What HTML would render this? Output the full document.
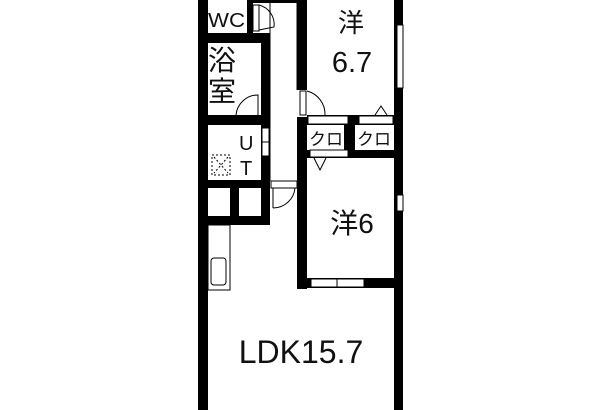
<!DOCTYPE html>
<html><head><meta charset="utf-8"><style>
html,body{margin:0;padding:0;background:#fff;width:600px;height:410px;overflow:hidden}
text{font-family:"Liberation Sans","Noto Sans CJK JP",sans-serif;fill:#111}
</style></head><body>
<svg width="600" height="410" viewBox="0 0 600 410" xmlns="http://www.w3.org/2000/svg">
<g fill="#000">
<rect x="198" y="0" width="10" height="410"/>
<rect x="394" y="0" width="9" height="410"/>
<rect x="250" y="0" width="56" height="3"/>
<rect x="247" y="0" width="6" height="33"/>
<rect x="208" y="33" width="62" height="10"/>
<rect x="261" y="33" width="9" height="192"/>
<rect x="208" y="115" width="62" height="10"/>
<rect x="208" y="180" width="62" height="8"/>
<rect x="230" y="188" width="9" height="30"/>
<rect x="208" y="216" width="62" height="9"/>
<rect x="297" y="0" width="10" height="90"/>
<rect x="297" y="117" width="10" height="172"/>
<rect x="307" y="115" width="87" height="10"/>
<rect x="307" y="150" width="87" height="8"/>
<rect x="344" y="125" width="11" height="25"/>
<rect x="297" y="278" width="97" height="10"/>
</g>
<g fill="#fff" stroke="#000" stroke-width="1">
<rect x="397" y="25" width="6" height="63"/>
<rect x="397" y="195" width="6" height="16"/>
<rect x="311" y="279" width="26" height="8"/>
<rect x="337" y="279" width="27" height="8"/>
<rect x="262" y="128" width="7" height="14"/>
<rect x="262" y="142" width="7" height="14"/>
<rect x="271" y="181" width="26" height="7"/>
<rect x="308" y="116" width="40" height="8"/>
<rect x="359" y="116" width="34" height="8"/>
<rect x="310" y="150" width="38" height="7"/>
</g>
<g fill="none" stroke="#000" stroke-width="1">
<line x1="270" y1="3" x2="270" y2="181"/>
<line x1="297" y1="3" x2="297" y2="90"/>
<rect x="208" y="225" width="22" height="65"/>
<rect x="211" y="258" width="15" height="27" rx="3"/>
<rect x="253" y="5" width="6" height="26" fill="#fff"/>
<path d="M259 5 A20 20 0 0 1 274 27 L259 30"/>
<path d="M236 115 A22 22 0 0 1 258 95 L258 115"/>
<rect x="300" y="91" width="6" height="24" fill="#fff"/>
<path d="M307 91 A24 24 0 0 1 325 115"/>
<path d="M273 208 A22 22 0 0 0 295 188"/>
<line x1="273" y1="188" x2="273" y2="208"/>
<path d="M375 115 L381 106 L387 115"/>
<path d="M314 158 L320 170 L326 158"/>
<rect x="212" y="155" width="18" height="20" stroke-dasharray="2,2"/>
<path d="M214 157 L228 173 M228 157 L214 173" stroke-dasharray="2,2"/>
</g>
<text x="208" y="27" font-size="20" textLength="37" lengthAdjust="spacingAndGlyphs">WC</text>
<text x="208" y="70" font-size="28">浴</text>
<text x="208" y="101" font-size="28">室</text>
<text x="239" y="150" font-size="20">U</text>
<text x="240" y="175" font-size="20">T</text>
<text x="309" y="145" font-size="17">クロ</text>
<text x="357" y="145" font-size="17">クロ</text>
<text x="351" y="32" font-size="26" text-anchor="middle">洋</text>
<text x="352" y="72" font-size="29" text-anchor="middle">6.7</text>
<text x="352" y="233" font-size="28" text-anchor="middle">洋6</text>
<text x="301" y="363" font-size="32" text-anchor="middle">LDK15.7</text>
</svg>
</body></html>
